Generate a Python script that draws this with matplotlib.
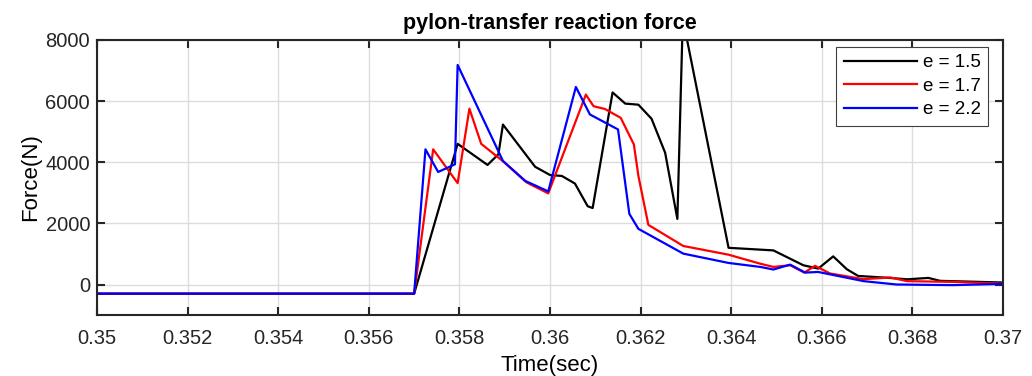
import matplotlib
matplotlib.use("Agg")
import matplotlib.pyplot as plt
from matplotlib.ticker import FuncFormatter

plt.rcParams['font.family'] = ['Liberation Sans', 'DejaVu Sans']

# time (s) and force (N) per eccentricity case
t_e15 = [0.350, 0.357, 0.35796, 0.35862, 0.35886, 0.35896, 0.35967, 0.36000, 0.36026,
         0.36055, 0.36083, 0.36094, 0.36138, 0.36166, 0.36195, 0.36224, 0.36254,
         0.36281, 0.36293, 0.36394, 0.36464, 0.36493, 0.36559, 0.36592, 0.36625,
         0.36655, 0.36680, 0.36750, 0.36788, 0.36835, 0.36861, 0.37000]
f_e15 = [-300, -300, 4600, 3910, 4260, 5230, 3850, 3580, 3550,
         3300, 2560, 2500, 6280, 5915, 5880, 5420, 4310,
         2145, 8700, 1200, 1140, 1115, 630, 520, 920,
         500, 280, 215, 170, 215, 120, 65]

t_e17 = [0.350, 0.357, 0.35742, 0.35796, 0.35822, 0.35848, 0.35897, 0.35948, 0.35996,
         0.36079, 0.36096, 0.36121, 0.36156, 0.36185, 0.36195, 0.36217, 0.36294,
         0.36394, 0.36464, 0.36493, 0.36530, 0.36561, 0.36585, 0.36618, 0.36692,
         0.36751, 0.36788, 0.36890, 0.37000]
f_e17 = [-300, -300, 4420, 3315, 5750, 4600, 4020, 3340, 2980,
         6210, 5830, 5740, 5450, 4580, 3550, 1950, 1260,
         975, 680, 575, 630, 390, 610, 360, 175,
         230, 110, 85, 30]

t_e22 = [0.350, 0.357, 0.35725, 0.35753, 0.35790, 0.35796, 0.35896, 0.35945, 0.35996,
         0.36057, 0.36088, 0.36150, 0.36175, 0.36195, 0.36294, 0.36394, 0.36464,
         0.36493, 0.36530, 0.36563, 0.36592, 0.36692, 0.36765, 0.36890, 0.37000]
f_e22 = [-300, -300, 4420, 3680, 3930, 7180, 4040, 3390, 3045,
         6460, 5560, 5070, 2310, 1820, 1010, 705, 575,
         490, 650, 390, 410, 110, 0, -20, 20]

labels = ['e = 1.5', 'e = 1.7', 'e = 2.2']
colors = ['black', 'red', 'blue']

fig = plt.figure(figsize=(10.32, 3.76), dpi=100)
ax = fig.add_axes([0.094, 0.162, 0.878, 0.732])

for t, f, lab, c in zip([t_e15, t_e17, t_e22], [f_e15, f_e17, f_e22], labels, colors):
    ax.plot(t, f, color=c, lw=1.6, label=lab)

ax.set_xlim(0.35, 0.37)
ax.set_ylim(-1000, 8000)
ax.set_xticks([0.35 + 0.002 * i for i in range(11)])
ax.set_yticks([0, 2000, 4000, 6000, 8000])
ax.xaxis.set_major_formatter(FuncFormatter(lambda v, p: f"{v:.3f}".rstrip('0')))

ax.grid(True, color='#dcdcdc', lw=1.0)
ax.set_axisbelow(True)
ax.tick_params(direction='in', length=6, width=1.5, top=True, right=True,
               labelsize=14.5, colors='#262626')
ax.tick_params(axis='x', pad=10)
ax.tick_params(axis='y', pad=5)
for s in ax.spines.values():
    s.set_linewidth(1.5)
    s.set_color('#262626')

ax.set_title('pylon-transfer reaction force', fontsize=15.5, fontweight='bold', pad=8)
ax.set_xlabel('Time(sec)', fontsize=16, labelpad=5)
ax.set_ylabel('Force(N)', fontsize=16, labelpad=3)

leg = ax.legend(loc='upper right', bbox_to_anchor=(0.9834, 0.9745), borderaxespad=0,
                fontsize=13.5, handlelength=3.9, frameon=True,
                fancybox=False, edgecolor='#404040', framealpha=1,
                labelspacing=0.33, handletextpad=0.3, borderpad=0.4)
leg.get_frame().set_linewidth(0.8)

fig.savefig('out.png', dpi=100)
